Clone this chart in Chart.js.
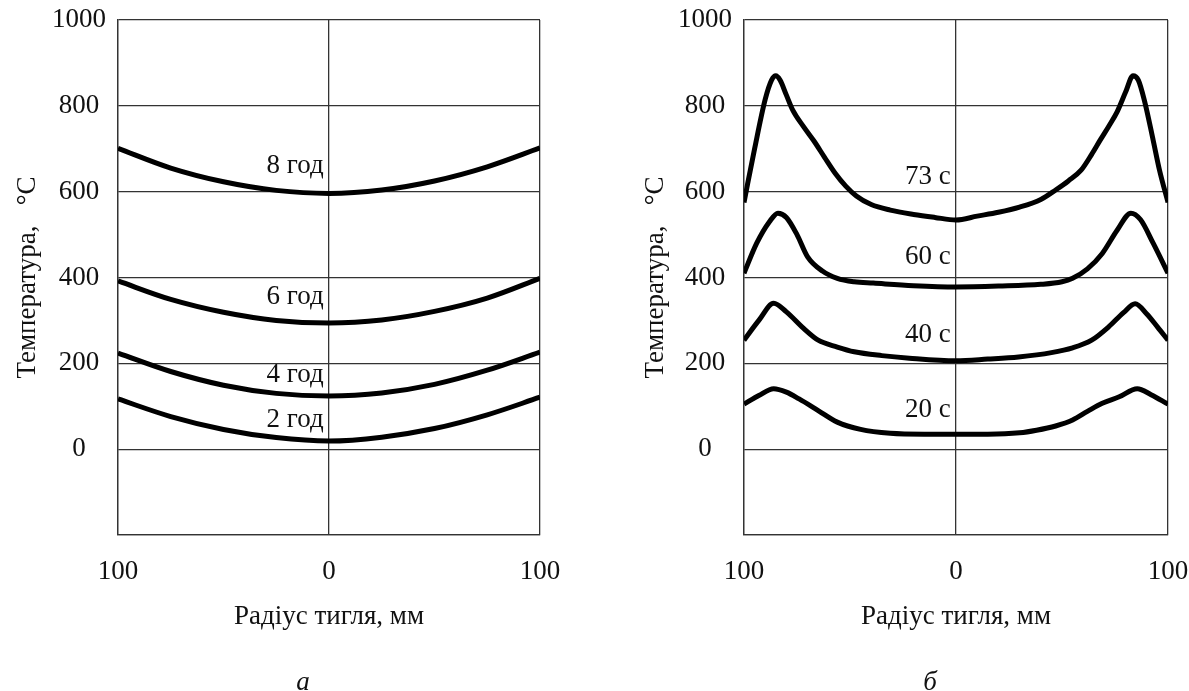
<!DOCTYPE html>
<html>
<head>
<meta charset="utf-8">
<script src="https://cdn.jsdelivr.net/npm/chart.js@4.4.1/dist/chart.umd.min.js"></script>
<style>
  html, body { margin: 0; padding: 0; background: #fff; overflow: hidden; }
  #chartA { position: absolute; left: 0; top: 0; }
  #chartB { position: absolute; left: 600px; top: 0; }
</style>
</head>
<body>
<canvas id="chartA" width="594" height="691"></canvas>
<canvas id="chartB" width="590" height="691"></canvas>
<script>
// ---- дані: (а) розподіл температури по радіусу тигля, години ----
const radiusA = [-100, -75, -50, -25, 0, 25, 50, 75, 100];
const temp2h = [117, 76, 46, 27, 19, 28, 48, 80, 121];
const temp4h = [224, 181, 149, 130, 124, 131, 151, 184, 226];
const temp6h = [392, 349, 319, 300, 294, 301, 321, 352, 398];
const temp8h = [701, 655, 623, 603, 596, 604, 625, 658, 702];
const namesA = ['2 год', '4 год', '6 год', '8 год'];
const nameYA = [68, 172, 354, 660];   // де стоять підписи кривих, °C

// ---- дані: (б) секунди ----
const radius20 = [-100, -93, -86, -80, -74, -65, -56, -45, -31, -15, 0, 15, 30, 38, 47, 55, 62, 69, 77, 85.5, 92, 100];
const temp20 = [105, 125, 141, 133, 117, 90, 63, 46, 37, 35, 35, 35, 38, 44, 54, 68, 88, 107, 122, 141, 127, 105];
const radius40 = [-100, -93, -86, -80, -72, -65, -56, -48, -35, -22, 0, 15, 29.5, 45, 55, 64, 72, 79, 84.5, 90, 95, 100];
const temp40 = [254, 300, 340, 320, 282, 254, 238, 227, 218, 212, 206, 210, 215, 225, 236, 254, 285, 318, 339, 315, 285, 254];
const radius60 = [-100, -94, -88, -84, -80, -75, -70, -63, -56, -48, -39, -20, 0, 20, 40, 50, 55, 62, 69, 76, 82.5, 87, 93, 100];
const temp60 = [410, 480, 530, 550, 540, 500, 448, 415, 398, 390, 387, 381, 378, 380, 384, 390, 398, 420, 456, 510, 550, 535, 480, 410];
const radius73 = [-100, -95, -90, -87, -85, -83, -80, -77, -72, -67, -62, -57, -52, -47, -40, -31, -20, -10, 0, 10, 20, 30, 40, 47, 53, 59, 64, 68, 72, 76, 80, 83.5, 86, 89, 93, 96, 100];
const temp73 = [575, 700, 815, 860, 870, 860, 825, 790, 752, 718, 680, 643, 613, 590, 570, 557, 547, 540, 534, 543, 552, 564, 582, 604, 625, 650, 687, 720, 752, 786, 832, 870, 860, 810, 720, 650, 575];
const namesB = ['20 с', '40 с', '60 с', '73 с'];
const nameYB = [91, 266, 448, 634];

const yTicks = [-200, 0, 200, 400, 600, 800, 1000];
const xTicks = [-100, 0, 100];

const FONT = '"Liberation Serif", "Times New Roman", serif';
Chart.defaults.font.family = FONT;
Chart.defaults.font.size = 27;
Chart.defaults.color = '#111';

function series(xs, ys) {
    return xs.map((x, i) => ({ x: x, y: ys[i] }));
}

function line(data) {
    return {
        data: data,
        borderColor: '#000',
        borderWidth: 5,
        pointRadius: 0,
        fill: false,
        cubicInterpolationMode: 'monotone'
    };
}

// підписи кривих і літера під графіком
const textPlugin = {
    id: 'textPlugin',
    afterDatasetsDraw(chart, args, opts) {
        const ctx = chart.ctx;
        const xs = chart.scales.x, ys = chart.scales.y;
        ctx.save();
        ctx.fillStyle = '#111';
        ctx.font = '27px ' + FONT;
        ctx.textAlign = 'right';
        ctx.textBaseline = 'middle';
        opts.names.forEach((n, i) => {
            ctx.fillText(n, xs.getPixelForValue(-2.5), ys.getPixelForValue(opts.ys[i]));
        });
        ctx.font = 'italic 27px ' + FONT;
        ctx.textAlign = 'center';
        ctx.fillText(opts.caption, xs.getPixelForValue(0) - 26, 683);
        ctx.restore();
    }
};

function makeChart(id, datasets, names, nameYs, caption, axisLeft, axisWidth, padRight) {
    return new Chart(document.getElementById(id), {
        type: 'line',
        data: { datasets: datasets },
        plugins: [textPlugin],
        options: {
            responsive: false,
            animation: false,
            layout: { padding: { left: axisLeft, top: 20, right: padRight, bottom: 0 } },
            plugins: {
                legend: { display: false },
                tooltip: { enabled: false },
                textPlugin: { names: names, ys: nameYs, caption: caption }
            },
            scales: {
                x: {
                    type: 'linear',
                    min: -100, max: 100,
                    afterBuildTicks: s => { s.ticks = xTicks.map(v => ({ value: v })); },
                    afterFit: s => { s.height = 156; s.paddingLeft = 0; s.paddingRight = 0; },
                    ticks: { padding: 21, maxRotation: 0, callback: v => String(Math.abs(v)) },
                    grid: { color: '#333', lineWidth: 1.3, drawTicks: false },
                    border: { color: '#333', width: 1.3 },
                    title: { display: true, text: 'Радіус тигля, мм', padding: { top: 0, bottom: 58 } }
                },
                y: {
                    min: -200, max: 1000,
                    afterBuildTicks: s => { s.ticks = yTicks.map(v => ({ value: v })); },
                    afterFit: s => { s.width = axisWidth; s.paddingTop = 0; s.paddingBottom = 0; },
                    ticks: { padding: 12, crossAlign: 'center', callback: v => v === -200 ? '' : String(v) },
                    grid: { color: '#333', lineWidth: 1.3, drawTicks: false },
                    border: { color: '#333', width: 1.3 },
                    title: { display: true, text: 'Температура,   °C', padding: { top: 12, bottom: 0 } }
                }
            }
        }
    });
}

makeChart('chartA', [
    line(series(radiusA, temp2h)),
    line(series(radiusA, temp4h)),
    line(series(radiusA, temp6h)),
    line(series(radiusA, temp8h))
], namesA, nameYA, 'а', 0, 118, 54);

makeChart('chartB', [
    line(series(radius20, temp20)),
    line(series(radius40, temp40)),
    line(series(radius60, temp60)),
    line(series(radius73, temp73))
], namesB, nameYB, 'б', 28, 116, 22);
</script>
</body>
</html>
